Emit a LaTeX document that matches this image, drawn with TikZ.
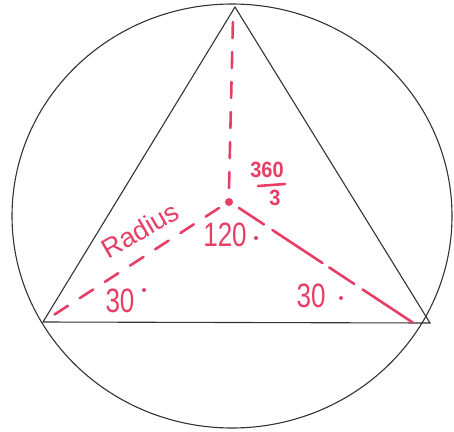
\documentclass[tikz,border=0pt]{standalone}
\usepackage{fontspec}
\setmainfont{Liberation Sans}
\definecolor{pen}{RGB}{232,62,102}
\tikzset{
  ink/.style={draw=black!80, line width=1.1pt},
  penline/.style={draw=pen, line width=2.6pt, line cap=round, dash pattern=on 16pt off 14pt},
  lbl/.style={text=pen, font=\fontsize{26}{26}\selectfont, inner sep=0pt, yscale=1.3},
  deg/.style={fill=pen, circle, inner sep=0pt, minimum size=4pt},
}
\begin{document}
\begin{tikzpicture}[x=1pt,y=-1pt]
\useasboundingbox (0,0) rectangle (454,431);
% circle
\coordinate (O) at (232,216);
\draw[ink] (O) ellipse [x radius=220, y radius=212];
% triangle
\coordinate (A) at (235,7);
\coordinate (B) at (43,322);
\coordinate (C) at (430,323);
\draw[ink] (A) -- (B) -- (C) -- cycle;
% centre
\coordinate (M) at (229,202);
\fill[pen] (M) circle (4);
% radii
\draw[penline] (M) ++(0,-14) -- (233,18);
\draw[penline] (M) ++(-10,6) -- (46,320);
\draw[penline, dash pattern=on 30pt off 10pt on 60pt off 8pt] (M) ++(10,6) -- (415,324);
% labels
\node[text=pen, inner sep=0pt, rotate=30, font=\fontsize{27}{27}\selectfont] (rad) at (140,230) {Radius};
\node[lbl] (a120) at (225,235) {120};
\node[deg] (d120) at (256,238) {};
\node[lbl] (a30l) at (120,301) {30};
\node[deg] (d30l) at (144,290) {};
\node[lbl] (a30r) at (311,296) {30};
\node[deg] (d30r) at (341,298) {};
\node[lbl, font=\bfseries\fontsize{20}{20}\selectfont, yscale=0.85] (num) at (267,170) {360};
\draw[pen, line width=2.6pt, line cap=round] (258,186) -- (285,184);
\node[lbl, font=\bfseries\fontsize{20}{20}\selectfont, yscale=0.85] (den) at (275,198) {3};
\end{tikzpicture}
\end{document}
